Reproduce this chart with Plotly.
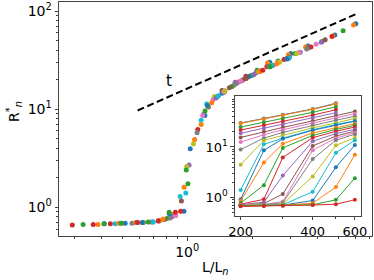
import plotly.graph_objects as go

# ---------------- data ----------------
L_values = [200, 250, 300, 400, 500, 600]
L_n = [83, 85, 95, 107, 120, 138, 152, 168, 187, 203, 207, 231,
       248, 268, 294, 319, 339, 360, 402, 431, 484, 517, 606, 680]
R_curves = [
    [30, 37, 44, 57, 74],
    [29.5, 36, 43, 56, 72],
    [25, 31, 37, 49, 63],
    [21.7, 27, 32, 43, 55],
    [18.8, 23.5, 28, 38, 48],
    [15.5, 20, 24.5, 33, 42, 51],
    [12.5, 17.5, 22, 30, 38, 46],
    [8.9, 15, 19.5, 27, 34, 41],
    [4.45, 13.5, 17, 24, 30, 37],
    [1.4, 11.3, 15, 22, 28, 33],
    [0.91, 8.6, 14.5, 21.5, 27, 32.5],
    [0.85, 4.9, 11.6, 19, 24, 29],
    [0.77, 1.74, 9.6, 17, 22.3, 27],
    [0.73, 0.91, 6.2, 15.3, 20.5, 25],
    [0.71, 0.80, 2.7, 13, 18.5, 22.5],
    [0.70, 0.75, 1.16, 10.5, 16.5, 20.7],
    [0.70, 0.72, 0.82, 8.6, 15, 19.3],
    [0.69, 0.71, 0.78, 5.76, 13.6, 18],
    [0.69, 0.70, 0.73, 2.6, 10.8, 15.3],
    [0.68, 0.70, 0.71, 1.29, 7.7, 13.6],
    [0.68, 0.69, 0.70, 0.86, 3.95, 10.9],
    [0.67, 0.69, 0.70, 0.76, 1.6, 7.0],
    [0.67, 0.68, 0.69, 0.71, 0.89, 2.4],
    [0.66, 0.67, 0.68, 0.70, 0.73, 0.89],
]
guide_x = [0.59, 6.1]
guide_y = [9.7, 94]
guide_label = "t"

x_title = "L/L<sub><i>n</i></sub>"
y_title = "R<sup>*</sup><sub><i>n</i></sub>"

main_y_ticks = [1, 10, 100]
main_y_text = ["10<sup>0</sup>", "10<sup>1</sup>", "10<sup>2</sup>"]
main_x_ticks = [1]
main_x_text = ["10<sup>0</sup>"]
inset_x_ticks = [200, 400, 600]
inset_x_text = ["200", "400", "600"]
inset_y_ticks = [1, 10]
inset_y_text = ["10<sup>0</sup>", "10<sup>1</sup>"]

colors = ["#1f77b4", "#ff7f0e", "#2ca02c", "#d62728", "#9467bd",
          "#8c564b", "#e377c2", "#7f7f7f", "#bcbd22", "#17becf"]

FONT = "DejaVu Sans"
fig = go.Figure()

# main collapsed plot
for i, (ln, rs) in enumerate(zip(L_n, R_curves)):
    xs = [L / ln for L in L_values[:len(rs)]]
    fig.add_trace(go.Scatter(
        x=xs, y=rs, mode="markers",
        marker=dict(color=colors[i % 10], size=5, line=dict(width=0)),
        xaxis="x", yaxis="y", showlegend=False, hoverinfo="skip"))

fig.add_trace(go.Scatter(
    x=guide_x, y=guide_y, mode="lines",
    line=dict(color="black", width=2, dash="7px,3.5px"),
    xaxis="x", yaxis="y", showlegend=False, hoverinfo="skip"))

# inset raw curves
for i, rs in enumerate(R_curves):
    fig.add_trace(go.Scatter(
        x=L_values[:len(rs)], y=rs, mode="lines+markers",
        line=dict(color=colors[i % 10], width=1),
        marker=dict(color=colors[i % 10], size=4),
        xaxis="x2", yaxis="y2", showlegend=False, hoverinfo="skip"))

frame = dict(showline=True, mirror=True, linecolor="#444", linewidth=1,
             showgrid=False, zeroline=False, ticks="outside",
             tickcolor="#444", ticklen=3.5, tickwidth=1, automargin=False)

minor_main_y = [0.6, 0.7, 0.8, 0.9] + [k for k in range(2, 10)] + [k * 10 for k in range(2, 10)]
minor_main_x = [0.3, 0.4, 0.5, 0.6, 0.7, 0.8, 0.9, 2, 3, 4, 5, 6, 7]
minor_in_y = [0.5, 0.6, 0.7, 0.8, 0.9] + [k for k in range(2, 10)] + [k * 10 for k in range(2, 10)]
minor_in_x = [300, 500]

pw = 374 - 59 - 2
ph = 280 - 2 - 44

fig.update_layout(
    width=374, height=280,
    margin=dict(l=59, r=2, t=2, b=44, autoexpand=False),
    paper_bgcolor="white", plot_bgcolor="white",
    font=dict(family=FONT, size=14, color="black"),
    hovermode=False,
    xaxis=dict(type="log", range=[-0.593, 0.855], domain=[0, 1],
               tickmode="array", tickvals=main_x_ticks, ticktext=main_x_text,
               tickfont=dict(size=14),
               minor=dict(ticks="outside", ticklen=2, tickcolor="#444",
                          tickmode="array", tickvals=minor_main_x),
               anchor="y", **frame),
    yaxis=dict(type="log", range=[-0.292, 2.092], domain=[0, 1],
               tickmode="array", tickvals=main_y_ticks, ticktext=main_y_text,
               tickfont=dict(size=14),
               minor=dict(ticks="outside", ticklen=2, tickcolor="#444",
                          tickmode="array", tickvals=minor_main_y),
               anchor="x", **frame),
    xaxis2=dict(type="log", range=[2.277, 2.804], domain=[0.562, 0.965],
                tickmode="array", tickvals=inset_x_ticks, ticktext=inset_x_text,
                tickfont=dict(size=13),
                minor=dict(ticks="outside", ticklen=2, tickcolor="#444",
                           tickmode="array", tickvals=minor_in_x),
                anchor="y2", **frame),
    yaxis2=dict(type="log", range=[-0.372, 2.02], domain=[0.0855, 0.5996],
                tickmode="array", tickvals=inset_y_ticks, ticktext=inset_y_text,
                tickfont=dict(size=13),
                minor=dict(ticks="outside", ticklen=2, tickcolor="#444",
                           tickmode="array", tickvals=minor_in_y),
                anchor="x2", **frame),
    annotations=[
        dict(x=-0.083, y=1.29, xref="x", yref="y", text=guide_label,
             showarrow=False, font=dict(size=15, family=FONT)),
        dict(x=0.5, y=-(268 - 236) / ph, xref="paper", yref="paper",
             xanchor="center", yanchor="middle",
             text=x_title, showarrow=False, font=dict(size=14, family=FONT)),
        dict(x=-(59 - 14) / pw, y=(236 - 112) / ph, xref="paper", yref="paper",
             xanchor="center", yanchor="middle",
             text=y_title, showarrow=False, textangle=-90,
             font=dict(size=14, family=FONT)),
    ],
)

fig.write_html("out.html",
               config={"displayModeBar": False, "staticPlot": True},
               post_script="document.body.style.margin='0px';document.body.style.overflow='hidden';")
